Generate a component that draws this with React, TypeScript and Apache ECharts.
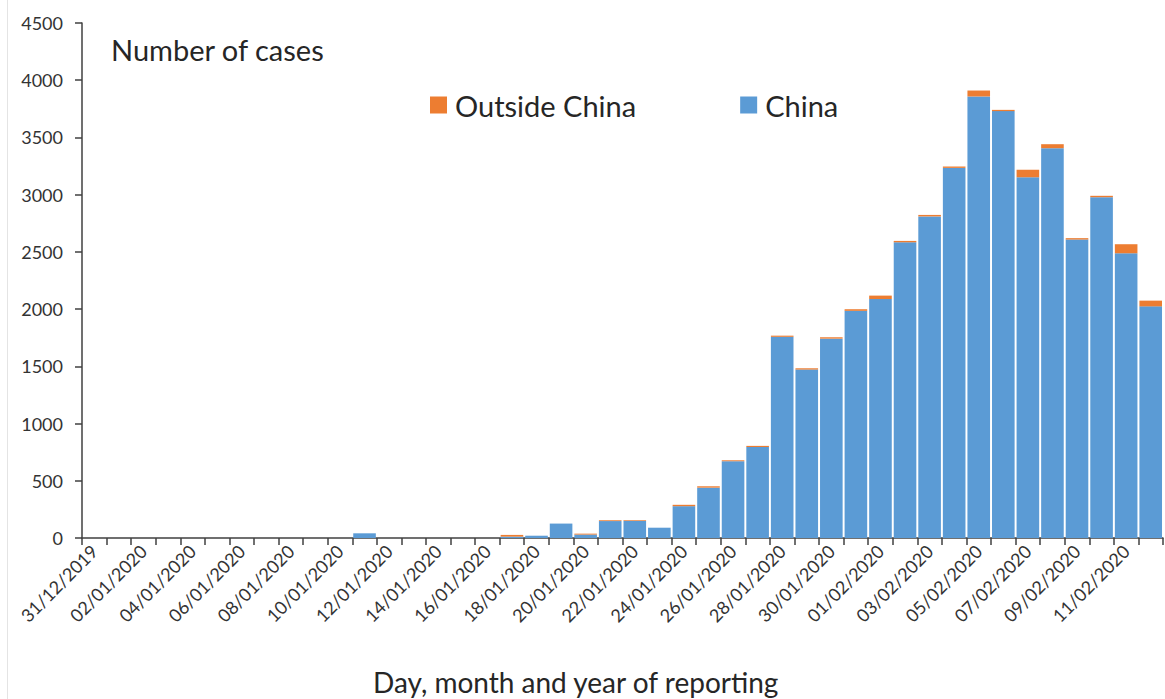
import React, { useEffect, useRef } from "react";
import * as echarts from "echarts";

const categories = [
  "31/12/2019", "01/01/2020", "02/01/2020", "03/01/2020", "04/01/2020", "05/01/2020",
  "06/01/2020", "07/01/2020", "08/01/2020", "09/01/2020", "10/01/2020", "11/01/2020",
  "12/01/2020", "13/01/2020", "14/01/2020", "15/01/2020", "16/01/2020", "17/01/2020",
  "18/01/2020", "19/01/2020", "20/01/2020", "21/01/2020", "22/01/2020", "23/01/2020",
  "24/01/2020", "25/01/2020", "26/01/2020", "27/01/2020", "28/01/2020", "29/01/2020",
  "30/01/2020", "31/01/2020", "01/02/2020", "02/02/2020", "03/02/2020", "04/02/2020",
  "05/02/2020", "06/02/2020", "07/02/2020", "08/02/2020", "09/02/2020", "10/02/2020",
  "11/02/2020", "12/02/2020",
];

const chinaCases = [
  0, 0, 0, 0, 0, 0, 0, 0, 0, 0, 0, 41,
  0, 0, 0, 0, 0, 12, 20, 126, 30, 148, 150, 90,
  278, 440, 671, 795, 1758, 1472, 1742, 1985, 2088, 2584, 2810, 3234,
  3858, 3730, 3153, 3406, 2608, 2978, 2488, 2024,
];

const outsideChinaCases = [
  0, 0, 0, 0, 0, 0, 0, 0, 0, 0, 0, 0,
  0, 0, 0, 0, 0, 15, 0, 0, 8, 7, 6, 0,
  12, 12, 8, 10, 10, 11, 12, 14, 30, 12, 13, 12,
  52, 11, 64, 35, 12, 12, 79, 50,
];

const seriesNames = ["Outside China", "China"];
const yMax = 4500;
const yInterval = 500;

const FONT = "Lato, 'Open Sans', sans-serif";
const TEXT = "#262626";
const AXIS = "#404040";

export default function App() {
  const ref = useRef<HTMLDivElement>(null);

  useEffect(() => {
    if (!ref.current) return;
    const chart = echarts.init(ref.current, undefined, { renderer: "svg" });
    chart.setOption({
      animation: false,
      backgroundColor: "#ffffff",
      textStyle: { fontFamily: FONT },
      title: [
        {
          text: "Number of cases",
          left: 106,
          top: 30,
          textStyle: { fontFamily: FONT, fontSize: 29, fontWeight: "normal", color: TEXT },
        },
        {
          text: "Day, month and year of reporting",
          left: 368,
          top: 663,
          textStyle: { fontFamily: FONT, fontSize: 28, fontWeight: "normal", color: TEXT },
        },
      ],
      legend: {
        data: seriesNames,
        left: 425,
        top: 84,
        icon: "rect",
        itemWidth: 17,
        itemHeight: 17,
        itemGap: 104,
        textStyle: {
          fontFamily: FONT,
          fontSize: 29,
          color: TEXT,
          lineHeight: 32,
          padding: [0, 0, 0, 3],
        },
      },
      graphic: [
        {
          type: "line",
          shape: { x1: 7.5, y1: 0, x2: 7.5, y2: 699 },
          style: { stroke: "#e4e4e4", lineWidth: 1 },
        },
      ],
      grid: { left: 82, top: 23, right: 2, bottom: 161, containLabel: false },
      xAxis: {
        type: "category",
        data: categories,
        boundaryGap: true,
        axisLine: { show: true, lineStyle: { color: AXIS, width: 1.5 } },
        axisTick: { show: true, interval: 0, length: 7, alignWithLabel: false, lineStyle: { color: AXIS, width: 1.5 } },
        axisLabel: {
          interval: 1,
          rotate: 45,
          margin: 10,
          fontFamily: FONT,
          fontSize: 18,
          color: "#333333",
        },
        splitLine: { show: false },
      },
      yAxis: {
        type: "value",
        min: 0,
        max: yMax,
        interval: yInterval,
        axisLine: { show: true, lineStyle: { color: AXIS, width: 1.5 } },
        axisTick: { show: true, length: 7, lineStyle: { color: AXIS, width: 1.5 } },
        axisLabel: {
          margin: 19,
          fontFamily: FONT,
          fontSize: 18,
          color: "#333333",
          formatter: (v: number) => String(v),
        },
        splitLine: { show: false },
      },
      series: [
        {
          name: "China",
          type: "bar",
          stack: "cases",
          data: chinaCases,
          barCategoryGap: "8%",
          itemStyle: { color: "#5B9BD5" },
        },
        {
          name: "Outside China",
          type: "bar",
          stack: "cases",
          data: outsideChinaCases,
          barCategoryGap: "8%",
          itemStyle: { color: "#ED7D31" },
        },
      ],
    });
    return () => chart.dispose();
  }, []);

  return (
    <div
      ref={ref}
      style={{ position: "absolute", left: 0, top: 0, width: 1165, height: 699 }}
    />
  );
}
